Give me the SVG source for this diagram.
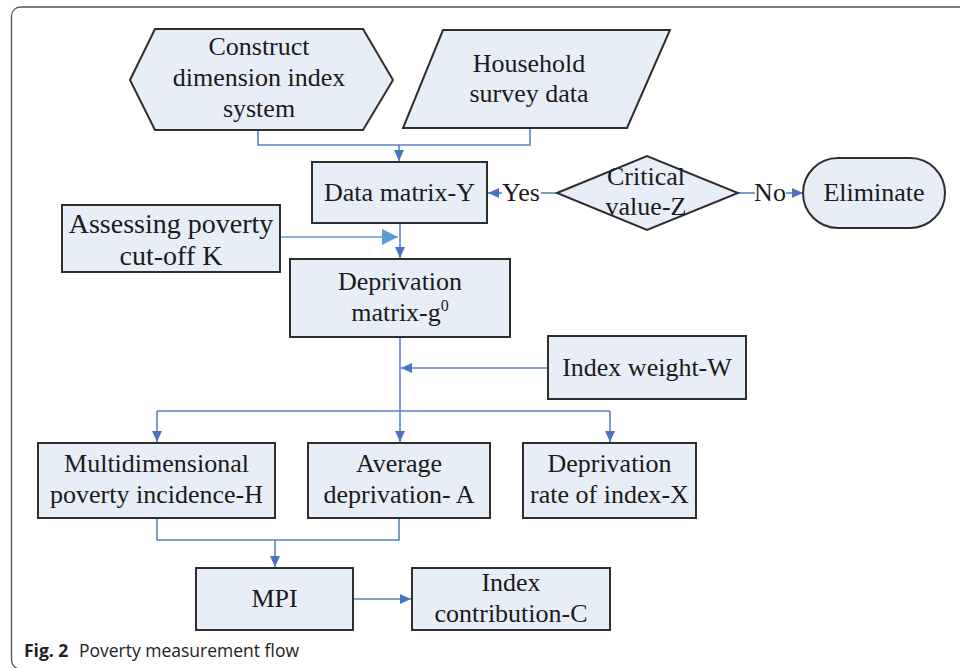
<svg xmlns="http://www.w3.org/2000/svg" width="960" height="668" viewBox="0 0 960 668">
<style>
.box{fill:#e7eef8;stroke:#2e2e2e;stroke-width:2}
.t{font-family:"Liberation Serif","Times New Roman",serif;font-size:26px;fill:#1a1a1a;text-anchor:middle}
.big{font-size:28px}
.c{fill:none;stroke:#5a82c6;stroke-width:1.6}
.cl{fill:none;stroke:#5b9bd5;stroke-width:1.6}
.cap{font-family:"Open Sans","Noto Sans","Liberation Sans",sans-serif;font-size:17.5px;fill:#222}
</style>
<defs>
<marker id="ah" markerUnits="userSpaceOnUse" markerWidth="12" markerHeight="10" refX="11" refY="5" orient="auto">
<path d="M0,0 L11,5 L0,10 Z" fill="#4a74bd"/>
</marker>
<marker id="ahb" markerUnits="userSpaceOnUse" markerWidth="17" markerHeight="16" refX="16" refY="8" orient="auto">
<path d="M0,0 L16,8 L0,16 Z" fill="#5b9bd5"/>
</marker>
</defs>
<rect x="11.5" y="7" width="970" height="662" rx="9" fill="#fff" stroke="#555" stroke-width="1.3"/>

<g id="connectors">
<path class="c" d="M258,130 V145 H530 V128"/>
<path class="c" d="M399,145 V161" marker-end="url(#ah)"/>
<path class="c" d="M557,193 H541"/>
<path class="c" d="M502,193 H488" marker-end="url(#ah)"/>
<path class="c" d="M738,193 H755"/>
<path class="c" d="M786,193 H803" marker-end="url(#ah)"/>
<path class="cl" d="M280,237 H398" marker-end="url(#ahb)"/>
<path class="c" d="M400,223 V258" marker-end="url(#ah)"/>
<path class="c" d="M400,337 V442" marker-end="url(#ah)"/>
<path class="c" d="M548,368 H401" marker-end="url(#ah)"/>
<path class="c" d="M157,411 H610"/>
<path class="c" d="M157,411 V442" marker-end="url(#ah)"/>
<path class="c" d="M610,411 V442" marker-end="url(#ah)"/>
<path class="c" d="M157,518 V540 H399 V518"/>
<path class="c" d="M275,540 V567" marker-end="url(#ah)"/>
<path class="c" d="M353,599 H411" marker-end="url(#ah)"/>
</g>

<g id="construct">
<polygon class="box" points="130,80 155,29 363,29 393,80 363,130 155,130"/>
<text class="t" x="259" y="55">Construct</text>
<text class="t" x="259" y="86">dimension index</text>
<text class="t" x="259" y="117">system</text>
</g>

<g id="household">
<polygon class="box" points="443,30 670,30 627,128 403,128"/>
<text class="t" x="529" y="72">Household</text>
<text class="t" x="529" y="102">survey data</text>
</g>

<g id="datamatrix">
<rect class="box" x="312" y="162" width="175" height="61"/>
<text class="t" x="399.5" y="201">Data matrix-Y</text>
</g>

<g id="critical">
<polygon class="box" points="557,193 647,156 738,193 647,230"/>
<text class="t" x="646" y="185">Critical</text>
<text class="t" x="646" y="215">value-Z</text>
</g>

<g id="labels">
<text class="t" x="521" y="201">Yes</text>
<text class="t" x="770" y="201">No</text>
</g>

<g id="eliminate">
<rect class="box" x="803" y="158" width="142" height="70" rx="35"/>
<text class="t" x="874" y="201">Eliminate</text>
</g>

<g id="assessing">
<rect class="box" x="62" y="205" width="218" height="67"/>
<text class="t big" x="171" y="233">Assessing poverty</text>
<text class="t big" x="171" y="265">cut-off K</text>
</g>

<g id="deprivationmatrix">
<rect class="box" x="290" y="259" width="220" height="78"/>
<text class="t" x="400" y="290">Deprivation</text>
<text class="t" x="400" y="321">matrix-g<tspan font-size="16" dy="-10">0</tspan></text>
</g>

<g id="indexweight">
<rect class="box" x="548" y="336" width="198" height="63"/>
<text class="t" x="647" y="376">Index weight-W</text>
</g>

<g id="multidimensional">
<rect class="box" x="38" y="443" width="237" height="75"/>
<text class="t" x="156.5" y="472">Multidimensional</text>
<text class="t" x="156.5" y="503">poverty incidence-H</text>
</g>

<g id="average">
<rect class="box" x="308" y="443" width="182" height="75"/>
<text class="t" x="399" y="472">Average</text>
<text class="t" x="399" y="503">deprivation- A</text>
</g>

<g id="deprivationrate">
<rect class="box" x="523" y="443" width="173" height="75"/>
<text class="t" x="609.5" y="472">Deprivation</text>
<text class="t" x="609.5" y="503">rate of index-X</text>
</g>

<g id="mpi">
<rect class="box" x="196" y="568" width="157" height="62"/>
<text class="t" x="274.5" y="607">MPI</text>
</g>

<g id="contribution">
<rect class="box" x="412" y="568" width="198" height="62"/>
<text class="t" x="511" y="591">Index</text>
<text class="t" x="511" y="622">contribution-C</text>
</g>

<text class="cap" x="24" y="657"><tspan font-weight="bold">Fig. 2</tspan><tspan dx="6"> Poverty measurement flow</tspan></text>
</svg>
